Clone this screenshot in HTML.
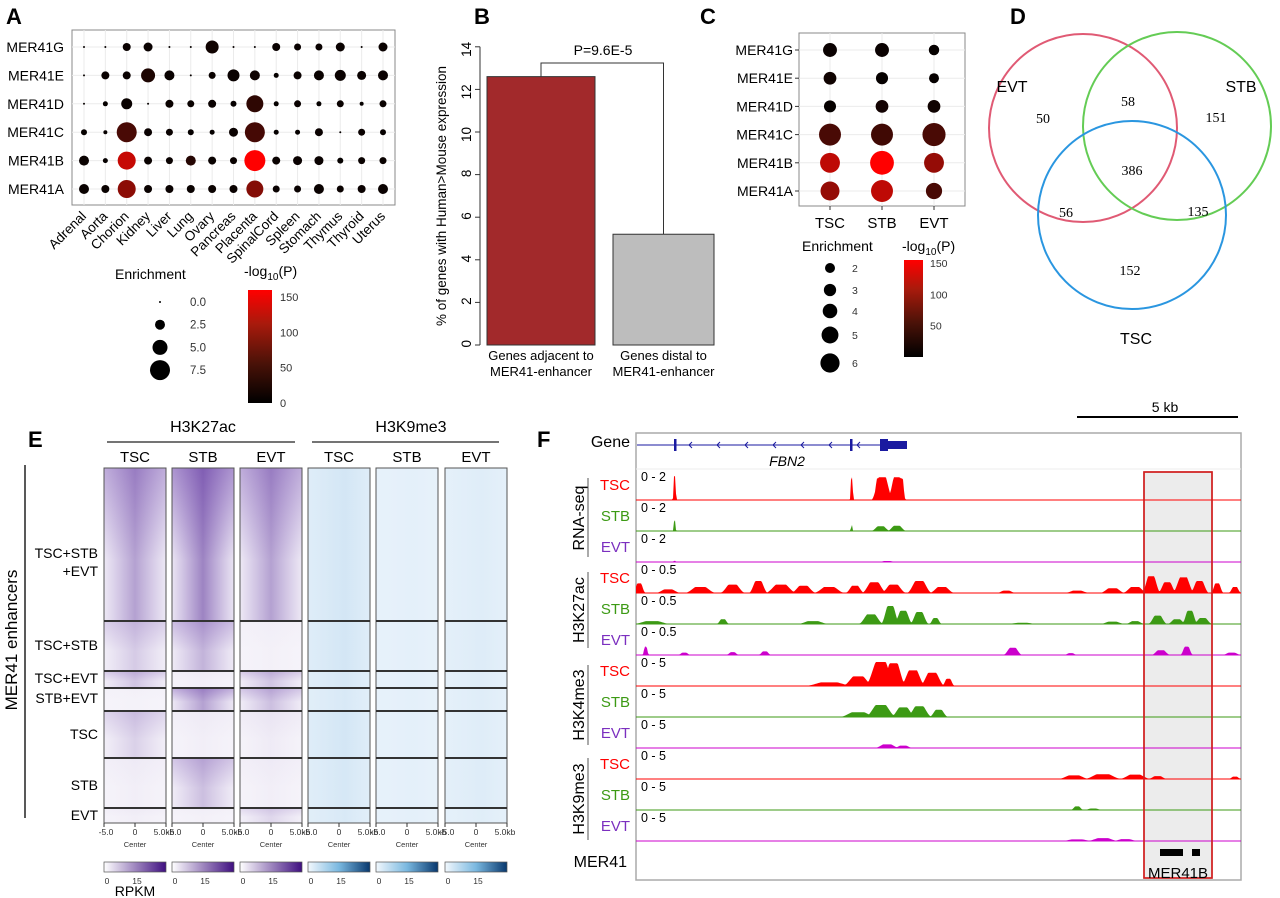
<!DOCTYPE html>
<html><head><meta charset="utf-8"><style>
body{margin:0;background:#fff}
svg{display:block;font-family:"Liberation Sans",sans-serif}
</style></head><body>
<svg id="fig" width="1280" height="898" viewBox="0 0 1280 898" xmlns="http://www.w3.org/2000/svg">
<defs>
<linearGradient id="cbRed" x1="0" y1="1" x2="0" y2="0"><stop offset="0" stop-color="#000"/><stop offset="0.35" stop-color="#4a1208"/><stop offset="0.7" stop-color="#a81a0c"/><stop offset="1" stop-color="#ff0000"/></linearGradient>
<linearGradient id="hp" x1="0" x2="1"><stop offset="0" stop-color="#5a2aa0" stop-opacity="0.15"/><stop offset="0.5" stop-color="#4b1d8f" stop-opacity="1"/><stop offset="1" stop-color="#5a2aa0" stop-opacity="0.15"/></linearGradient>
<linearGradient id="vp" x1="0" y1="0" x2="0" y2="1"><stop offset="0" stop-color="#5a2aa0" stop-opacity="0.9"/><stop offset="1" stop-color="#5a2aa0" stop-opacity="0"/></linearGradient>
<linearGradient id="hb" x1="0" x2="1"><stop offset="0" stop-color="#6fb0dc" stop-opacity="0.6"/><stop offset="0.6" stop-color="#4a98d0" stop-opacity="0.9"/><stop offset="1" stop-color="#6fb0dc" stop-opacity="0.6"/></linearGradient>
<linearGradient id="cbP" x1="0" x2="1"><stop offset="0" stop-color="#fff"/><stop offset="1" stop-color="#3f0f80"/></linearGradient>
<linearGradient id="cbB" x1="0" x2="1"><stop offset="0" stop-color="#f2f8fd"/><stop offset="0.5" stop-color="#7ab8e0"/><stop offset="1" stop-color="#08386e"/></linearGradient>
</defs>
<g font-weight="bold" font-size="22">
<text x="6" y="24">A</text>
<text x="474" y="24">B</text>
<text x="700" y="24">C</text>
<text x="1010" y="24">D</text>
<text x="28" y="447">E</text>
<text x="537" y="447">F</text>
</g>
<g id="pA"></g>
<g id="pB"></g>
<g id="pC"></g>
<g id="pD"></g>
<g id="pE"></g>
<g id="pF"></g>
</svg>
<script>
// ---------- data ----------
const tissues = ['Adrenal','Aorta','Chorion','Kidney','Liver','Lung','Ovary','Pancreas','Placenta','SpinalCord','Spleen','Stomach','Thymus','Thyroid','Uterus'];
const repeats = ['MER41G','MER41E','MER41D','MER41C','MER41B','MER41A'];
const enrichA = [
 [0,0,3,3.5,0,0,5.5,0,0,3,2.5,2.5,3.5,0,3.5],
 [0,3,3,6,4,0,2.5,5,4,1.5,3,4,4.5,3.5,4],
 [0,1.5,4.5,0,3,2.5,3,2,7.5,1.5,2.5,1.5,2.5,1,2.5],
 [2,1,9,3,2.5,2,1.5,3.5,9,1.5,1.5,3,0,2.5,2],
 [4,1.5,8,3,2.5,4,3,2.5,9.5,3,3.5,3.5,2,2.5,2.5],
 [4,3,8,3,3,3,3,3,7.5,2.5,2.5,4,2.5,3,4]];
const pvalA = [
 [3,3,5,5,3,3,8,3,3,5,5,5,5,3,5],
 [3,5,5,15,5,3,5,5,8,3,5,5,5,5,5],
 [3,3,5,3,5,5,5,3,25,3,5,3,5,3,5],
 [3,3,40,5,5,3,3,5,38,3,3,5,3,5,3],
 [5,3,115,5,5,20,5,5,150,5,5,5,3,5,5],
 [5,5,80,5,5,5,5,5,75,5,5,5,5,5,5]];
const legendEnrichA = [0,2.5,5,7.5];
const legendPTicks = [0,50,100,150];
const barLabels = [['Genes adjacent to','MER41-enhancer'],['Genes distal to','MER41-enhancer']];
const barValues = [12.6,5.2];
const barTicks = [0,2,4,6,8,10,12,14];
const cellTypes = ['TSC','STB','EVT'];
const enrichC = [[3,3,1.5],[2.5,2.2,1.3],[2.2,2.5,2.5],[6.5,6.5,7],[5.6,7.3,5.6],[5.2,6.5,4]];
const pvalC = [[5,5,3],[8,3,3],[3,10,8],[40,35,40],[110,150,85],[85,110,40]];
const legendEnrichC = [2,3,4,5,6];
const vennCounts = {EVT:50,EVT_STB:58,STB:151,ALL:386,EVT_TSC:56,STB_TSC:135,TSC:152};
const heatGroups = ['TSC+STB|+EVT','TSC+STB','TSC+EVT','STB+EVT','TSC','STB','EVT'];
const heatGroupCounts = [153,50,17,23,47,50,15];
const k27Intensity = [[0.7,0.35,0.4,0.02,0.3,0.05,0.05],[0.95,0.55,0.05,0.7,0.05,0.45,0.03],[0.7,0.03,0.4,0.45,0.08,0.05,0.25]];
const k9Intensity = [[0.45,0.45,0.4,0.35,0.45,0.4,0.35],[0.12,0.12,0.12,0.12,0.12,0.12,0.12],[0.22,0.25,0.22,0.22,0.22,0.25,0.2]];
const trackNames = ['TSC','STB','EVT'];
const trackScales = ['0 - 2','0 - 0.5','0 - 5','0 - 5'];
const assays = ['RNA-seq','H3K27ac','H3K4me3','H3K9me3'];
const peaks = [
 [[1.2,0.06,1.0],[6.7,0.06,0.95],[7.65,0.35,0.95],[8.1,0.3,0.95],[7.5,0.1,0.9],[8.25,0.12,0.9]],
 [[1.2,0.05,0.45],[6.7,0.04,0.25],[7.6,0.3,0.2],[8.1,0.3,0.22]],
 [[1.2,0.05,0.05],[7.8,0.3,0.04]],
 [[0.1,0.2,0.4],[1,0.4,0.15],[2,0.5,0.25],[3,0.4,0.35],[3.8,0.3,0.5],[4.5,0.5,0.35],[5.2,0.4,0.3],[6,0.5,0.25],[6.8,0.3,0.3],[7.4,0.4,0.45],[8,0.4,0.35],[8.8,0.4,0.5],[9.5,0.4,0.25],[11.5,0.3,0.1],[13.7,0.4,0.1],[14.8,0.4,0.2],[15.5,0.4,0.25],[16.0,0.3,0.7],[16.5,0.3,0.45],[17.0,0.35,0.65],[17.5,0.3,0.5],[18.05,0.2,0.4],[18.6,0.2,0.25]],
 [[0.5,0.6,0.12],[2.7,0.2,0.2],[5.5,0.5,0.12],[7.3,0.4,0.4],[7.9,0.3,0.75],[8.3,0.3,0.55],[8.8,0.3,0.5],[9.3,0.2,0.25],[12,0.5,0.05],[14.8,0.4,0.1],[15.5,0.3,0.12],[16.2,0.3,0.35],[16.8,0.3,0.2],[17.2,0.25,0.55],[17.6,0.3,0.25]],
 [[0.3,0.1,0.35],[1.5,0.2,0.1],[3,0.2,0.12],[4,0.2,0.15],[11.7,0.3,0.3],[13.5,0.2,0.08],[16.3,0.3,0.2],[17.1,0.2,0.35],[18.5,0.3,0.1]],
 [[6,0.8,0.15],[6.9,0.5,0.4],[7.6,0.5,1.0],[8.0,0.4,0.95],[8.6,0.4,0.65],[9.2,0.4,0.55],[9.7,0.2,0.3]],
 [[6.9,0.6,0.2],[7.6,0.5,0.5],[8.3,0.4,0.4],[8.8,0.4,0.45],[9.4,0.3,0.3]],
 [[7.8,0.4,0.15],[8.3,0.3,0.1]],
 [[13.6,0.5,0.15],[14.5,0.6,0.2],[15.5,0.5,0.18],[16.2,0.3,0.12],[18.6,0.2,0.1]],
 [[13.7,0.2,0.15],[14.2,0.3,0.06]],
 [[13.7,0.5,0.07],[14.5,0.5,0.12],[15.2,0.4,0.08]]];

// ---------- helpers ----------
const NS='http://www.w3.org/2000/svg';
function mk(tag, attrs, parent){const e=document.createElementNS(NS,tag);for(const k in attrs)e.setAttribute(k,attrs[k]);parent.appendChild(e);return e;}
function txt(s, attrs, parent){const e=mk('text',attrs,parent);e.textContent=s;return e;}
function pColor(p){const t=Math.max(0,Math.min(1,p/150));return `rgb(${Math.round(255*Math.pow(t,0.95))},${Math.round(50*t*(1-t))},${Math.round(25*t*(1-t))})`;}

// ---------- Panel A ----------
(function(){
 const g=document.getElementById('pA');
 const x0=72,x1=395,y0=30,y1=205;
 const xA=i=>84+i*(383-84)/14, yA=j=>47+j*28.4, rA=e=>1+e;
 mk('rect',{x:x0,y:y0,width:x1-x0,height:y1-y0,fill:'#fff',stroke:'#888','stroke-width':1},g);
 tissues.forEach((t,i)=>{mk('line',{x1:xA(i),x2:xA(i),y1:y0,y2:y1,stroke:'#ebebeb'},g);});
 repeats.forEach((r,j)=>{mk('line',{x1:x0,x2:x1,y1:yA(j),y2:yA(j),stroke:'#ebebeb'},g);
   const l=txt(r,{x:64,y:yA(j)+5,'text-anchor':'end','font-size':14},g);
   
   });
 enrichA.forEach((row,j)=>row.forEach((e,i)=>{
   const c=mk('circle',{cx:xA(i),cy:yA(j),r:rA(e),fill:pColor(pvalA[j][i])},g);
   
   }));
 tissues.forEach((t,i)=>{const l=txt(t,{x:xA(i)+3,y:y1+12,'text-anchor':'end','font-size':13.5,transform:`rotate(-45 ${xA(i)+3} ${y1+12})`},g);
   
   });
 const lt=txt('Enrichment',{x:115,y:279,'font-size':14},g);
  
 legendEnrichA.forEach((v,k)=>{const cy=302+k*22.7;
   const c=mk('circle',{cx:160,cy:cy,r:rA(v)+(v>0?1.5:0),fill:'#000'},g);
    
   txt(v.toFixed(1),{x:190,y:cy+4,'font-size':11.5,fill:'#333'},g);});
 const ct=txt('-log',{x:244,y:276,'font-size':14},g);
  
 const ts=mk('tspan',{'font-size':10,dy:4},ct); ts.textContent='10';
 const ts2=mk('tspan',{dy:-4},ct); ts2.textContent='(P)';
 const cb=mk('rect',{x:248,y:290,width:24,height:113,fill:'url(#cbRed)'},g);
  
 legendPTicks.forEach(v=>{const y=403-v/150*106;txt(String(v),{x:280,y:y+4,'font-size':11,fill:'#333'},g);});
})();

// ---------- Panel B ----------
(function(){
 const g=document.getElementById('pB');
 const yB=v=>345-v*21.3;
 mk('line',{x1:480,x2:480,y1:yB(14),y2:yB(0),stroke:'#333'},g);
 barTicks.forEach(v=>{mk('line',{x1:475,x2:480,y1:yB(v),y2:yB(v),stroke:'#333'},g);
   txt(String(v),{x:471,y:yB(v)+5,'text-anchor':'end','font-size':13.5,transform:`rotate(-90 466 ${yB(v)})`},g);});
 const at=txt('% of genes with Human>Mouse expression',{x:446,y:196,'text-anchor':'middle','font-size':13.5,transform:'rotate(-90 446 196)'},g);
  
 const bx=[487,613], bw=[108,101], cols=['#a2292b','#bdbdbd'];
 barValues.forEach((v,i)=>{const b=mk('rect',{x:bx[i],y:yB(v),width:bw[i],height:yB(0)-yB(v),fill:cols[i],stroke:'#333','stroke-width':1},g);
    
   barLabels[i].forEach((s,k)=>txt(s,{x:bx[i]+bw[i]/2,y:360+k*16,'text-anchor':'middle','font-size':13},g));});
 const cBx=bx[1]+bw[1]/2;
 const br=mk('path',{d:`M541 ${yB(barValues[0])} V63 H${cBx} V${yB(barValues[1])}`,fill:'none',stroke:'#333'},g);
  
 const pt=txt('P=9.6E-5',{x:603,y:55,'text-anchor':'middle','font-size':14},g);
  
})();

// ---------- Panel C ----------
(function(){
 const g=document.getElementById('pC');
 const xC=i=>830+i*52, yC=j=>50+j*28.2, rC=e=>3.5+1.15*e;
 mk('rect',{x:799,y:33,width:166,height:173,fill:'#fff',stroke:'#888'},g);
 cellTypes.forEach((t,i)=>{mk('line',{x1:xC(i),x2:xC(i),y1:33,y2:206,stroke:'#ebebeb'},g);
   mk('line',{x1:xC(i),x2:xC(i),y1:206,y2:210,stroke:'#333'},g);
   const l=txt(t,{x:xC(i),y:228,'text-anchor':'middle','font-size':15},g);
    });
 repeats.forEach((r,j)=>{mk('line',{x1:799,x2:965,y1:yC(j),y2:yC(j),stroke:'#ebebeb'},g);
   mk('line',{x1:795,x2:799,y1:yC(j),y2:yC(j),stroke:'#333'},g);
   txt(r,{x:793,y:yC(j)+5,'text-anchor':'end','font-size':14},g);});
 enrichC.forEach((row,j)=>row.forEach((e,i)=>{
   const c=mk('circle',{cx:xC(i),cy:yC(j),r:rC(e),fill:pColor(pvalC[j][i])},g);
   
   }));
 txt('Enrichment',{x:802,y:251,'font-size':14},g);
 const ly=[268,290,311,335,363];
 legendEnrichC.forEach((v,k)=>{const c=mk('circle',{cx:830,cy:ly[k],r:rC(v)-0.8,fill:'#000'},g);
    
   txt(String(v),{x:852,y:ly[k]+4,'font-size':10.5,fill:'#333'},g);});
 const ct=txt('-log',{x:902,y:251,'font-size':14},g);
 const s1=mk('tspan',{'font-size':10,dy:4},ct); s1.textContent='10';
 const s2=mk('tspan',{dy:-4},ct); s2.textContent='(P)';
 mk('rect',{x:904,y:260,width:19,height:97,fill:'url(#cbRed)'},g);
 [150,100,50].forEach(v=>{const y=357-v/150*94;txt(String(v),{x:930,y:y+4,'font-size':10.5,fill:'#333'},g);});
})();

// ---------- Panel D ----------
(function(){
 const g=document.getElementById('pD');
 const circ=[['evt',1083,128,'#e05a74'],['stb',1177,126,'#64cc55'],['tsc',1132,215,'#2a96e0']];
 circ.forEach(c=>{const e=mk('circle',{cx:c[1],cy:c[2],r:94,fill:'none',stroke:c[3],'stroke-width':2},g);
    });
 txt('EVT',{x:1012,y:92,'text-anchor':'middle','font-size':16},g);
 txt('STB',{x:1241,y:92,'text-anchor':'middle','font-size':16},g);
 txt('TSC',{x:1136,y:344,'text-anchor':'middle','font-size':16},g);
 const pos={EVT:[1043,123],EVT_STB:[1128,106],STB:[1216,122],ALL:[1132,175],EVT_TSC:[1066,217],STB_TSC:[1198,216],TSC:[1130,275]};
 for(const k in vennCounts){const t=txt(String(vennCounts[k]),{x:pos[k][0],y:pos[k][1],'text-anchor':'middle','font-size':14,'font-family':'Liberation Serif, serif'},g);
    }
})();

// ---------- Panel E ----------
(function(){
 const g=document.getElementById('pE');
 const colX=[104,172,240,308,376,445], cw=62;
 const bounds=[468];
 const total=heatGroupCounts.reduce((a,b)=>a+b,0);
 heatGroupCounts.forEach(n=>bounds.push(bounds[bounds.length-1]+n/total*355));
 txt('H3K27ac',{x:203,y:432,'text-anchor':'middle','font-size':16},g);
 txt('H3K9me3',{x:411,y:432,'text-anchor':'middle','font-size':16},g);
 mk('line',{x1:107,x2:295,y1:442,y2:442,stroke:'#222','stroke-width':1.2},g);
 mk('line',{x1:312,x2:499,y1:442,y2:442,stroke:'#222','stroke-width':1.2},g);
 colX.forEach((x,c)=>{txt(cellTypes[c%3],{x:x+cw/2,y:462,'text-anchor':'middle','font-size':15},g);
   const purple=c<3; const I=purple?k27Intensity[c]:k9Intensity[c-3];
   for(let s=0;s<7;s++){const y=bounds[s],h=bounds[s+1]-y;
     const base=mk('rect',{x:x,y:y,width:cw,height:h,fill:purple?'#f6f4fa':'#eaf3fb'},g);
     
     
     if(purple){mk('rect',{x:x,y:y,width:cw,height:h,fill:'url(#hp)',opacity:I[s]*0.55},g);
       mk('rect',{x:x,y:y,width:cw,height:h*0.6,fill:'url(#vp)',opacity:I[s]*0.5},g);}
     else{mk('rect',{x:x,y:y,width:cw,height:h,fill:'url(#hb)',opacity:I[s]*0.35},g);}
   }
   mk('rect',{x:x,y:468,width:cw,height:355,fill:'none',stroke:'#555','stroke-width':1},g);
   for(let s=1;s<7;s++)mk('line',{x1:x,x2:x+cw,y1:bounds[s],y2:bounds[s],stroke:'#333','stroke-width':2},g);
   [0,0.5,1].forEach(f=>mk('line',{x1:x+f*cw,x2:x+f*cw,y1:823,y2:827,stroke:'#333'},g));
   txt('-5.0',{x:x+2,y:835,'text-anchor':'middle','font-size':8.5,fill:'#333'},g);
   txt('0',{x:x+cw/2,y:835,'text-anchor':'middle','font-size':8.5,fill:'#333'},g);
   txt('5.0kb',{x:x+cw-2,y:835,'text-anchor':'middle','font-size':8.5,fill:'#333'},g);
   txt('Center',{x:x+cw/2,y:847,'text-anchor':'middle','font-size':7.5,fill:'#333'},g);
   const cb=mk('rect',{x:x,y:862,width:cw,height:10,fill:purple?'url(#cbP)':'url(#cbB)',stroke:'#555','stroke-width':0.7},g);
    
   txt('0',{x:x+3,y:884,'text-anchor':'middle','font-size':8.5,fill:'#333'},g);
   txt('15',{x:x+33,y:884,'text-anchor':'middle','font-size':8.5,fill:'#333'},g);
 });
 txt('RPKM',{x:135,y:896,'text-anchor':'middle','font-size':14},g);
 mk('line',{x1:25,x2:25,y1:465,y2:818,stroke:'#222','stroke-width':1.5},g);
 const yt=txt('MER41 enhancers',{x:17,y:640,'text-anchor':'middle','font-size':17,transform:'rotate(-90 17 640)'},g);
  
 const gy=[[553,571],[645],[678],[698],[734],[785],[815]];
 heatGroups.forEach((name,s)=>{name.split('|').forEach((p,k)=>{
   const t=txt(p,{x:98,y:gy[s][k]+5,'text-anchor':'end','font-size':14},g);
    });});
})();

// ---------- Panel F ----------
(function(){
 const g=document.getElementById('pF');
 const X0=636,X1=1241;
 mk('line',{x1:1077,x2:1238,y1:417,y2:417,stroke:'#000','stroke-width':2},g);
 txt('5 kb',{x:1165,y:412,'text-anchor':'middle','font-size':14},g);
 mk('rect',{x:X0,y:433,width:X1-X0,height:447,fill:'#fff',stroke:'#aaa','stroke-width':1.5},g);
 const hl=mk('rect',{x:1144,y:472,width:68,height:406,fill:'#ececec',stroke:'#d02020','stroke-width':1.5},g);
  
 txt('Gene',{x:630,y:447,'text-anchor':'end','font-size':16},g);
 mk('line',{x1:637,x2:905,y1:445,y2:445,stroke:'#1a1aa0','stroke-width':1},g);
 for(let x=690;x<880;x+=28) mk('path',{d:`M${x+2} 442 L${x-1} 445 L${x+2} 448`,fill:'none',stroke:'#1a1aa0'},g);
 mk('rect',{x:674,y:439,width:2.5,height:12,fill:'#1a1aa0'},g);
 mk('rect',{x:850,y:439,width:2.5,height:12,fill:'#1a1aa0'},g);
 mk('rect',{x:880,y:439,width:8,height:12,fill:'#1a1aa0'},g);
 mk('rect',{x:888,y:441,width:19,height:8,fill:'#1a1aa0'},g);
 txt('FBN2',{x:787,y:466,'text-anchor':'middle','font-size':14,'font-style':'italic'},g);
 mk('line',{x1:X0,x2:X1,y1:469,y2:469,stroke:'#eee'},g);
 const fillC=['#ff0000','#3c9a14','#cc00cc'], labC=['#ff0000','#3c9a14','#7b2fbf'];
 peaks.forEach((pk,t)=>{
   const base=500+t*31, ci=t%3, a=Math.floor(t/3);
   let d=`M${X0} ${base}`;
   for(let px=0;px<=X1-X0;px+=1){const kb=px/32.2;let h=0.02;
     pk.forEach(p=>{const dd=Math.abs(kb-p[0])/p[1];if(dd<1){h=Math.max(h,p[2]*Math.min(1,1.3*(0.5+0.5*Math.cos(Math.PI*dd))));}});
     d+=` L${X0+px} ${base-Math.min(h,1)*24}`;}
   d+=` L${X1} ${base} Z`;
   const tr=mk('path',{d:d,fill:fillC[ci]},g);
   
   
   mk('line',{x1:X0,x2:X1,y1:base,y2:base,stroke:fillC[ci],'stroke-width':1},g);
   txt(trackScales[a],{x:641,y:base-19,'font-size':12.5},g);
   txt(trackNames[ci],{x:630,y:base-10,'text-anchor':'end','font-size':15,fill:labC[ci]},g);
 });
 mk('rect',{x:1144,y:472,width:68,height:406,fill:'none',stroke:'#d02020','stroke-width':1.5},g);
 const cy=[518,610,705,799], lines=[[478,557],[572,648],[665,745],[758,840]];
 assays.forEach((s,a)=>{const t=txt(s,{x:584,y:cy[a],'text-anchor':'middle','font-size':16,transform:`rotate(-90 584 ${cy[a]})`},g);
    
   mk('line',{x1:588,x2:588,y1:lines[a][0],y2:lines[a][1],stroke:'#555'},g);});
 txt('MER41',{x:627,y:867,'text-anchor':'end','font-size':16},g);
 mk('rect',{x:1160,y:849,width:23,height:7,fill:'#000'},g);
 mk('rect',{x:1192,y:849,width:8,height:7,fill:'#000'},g);
 txt('MER41B',{x:1178,y:878,'text-anchor':'middle','font-size':15},g);
})();
</script>
</body></html>
